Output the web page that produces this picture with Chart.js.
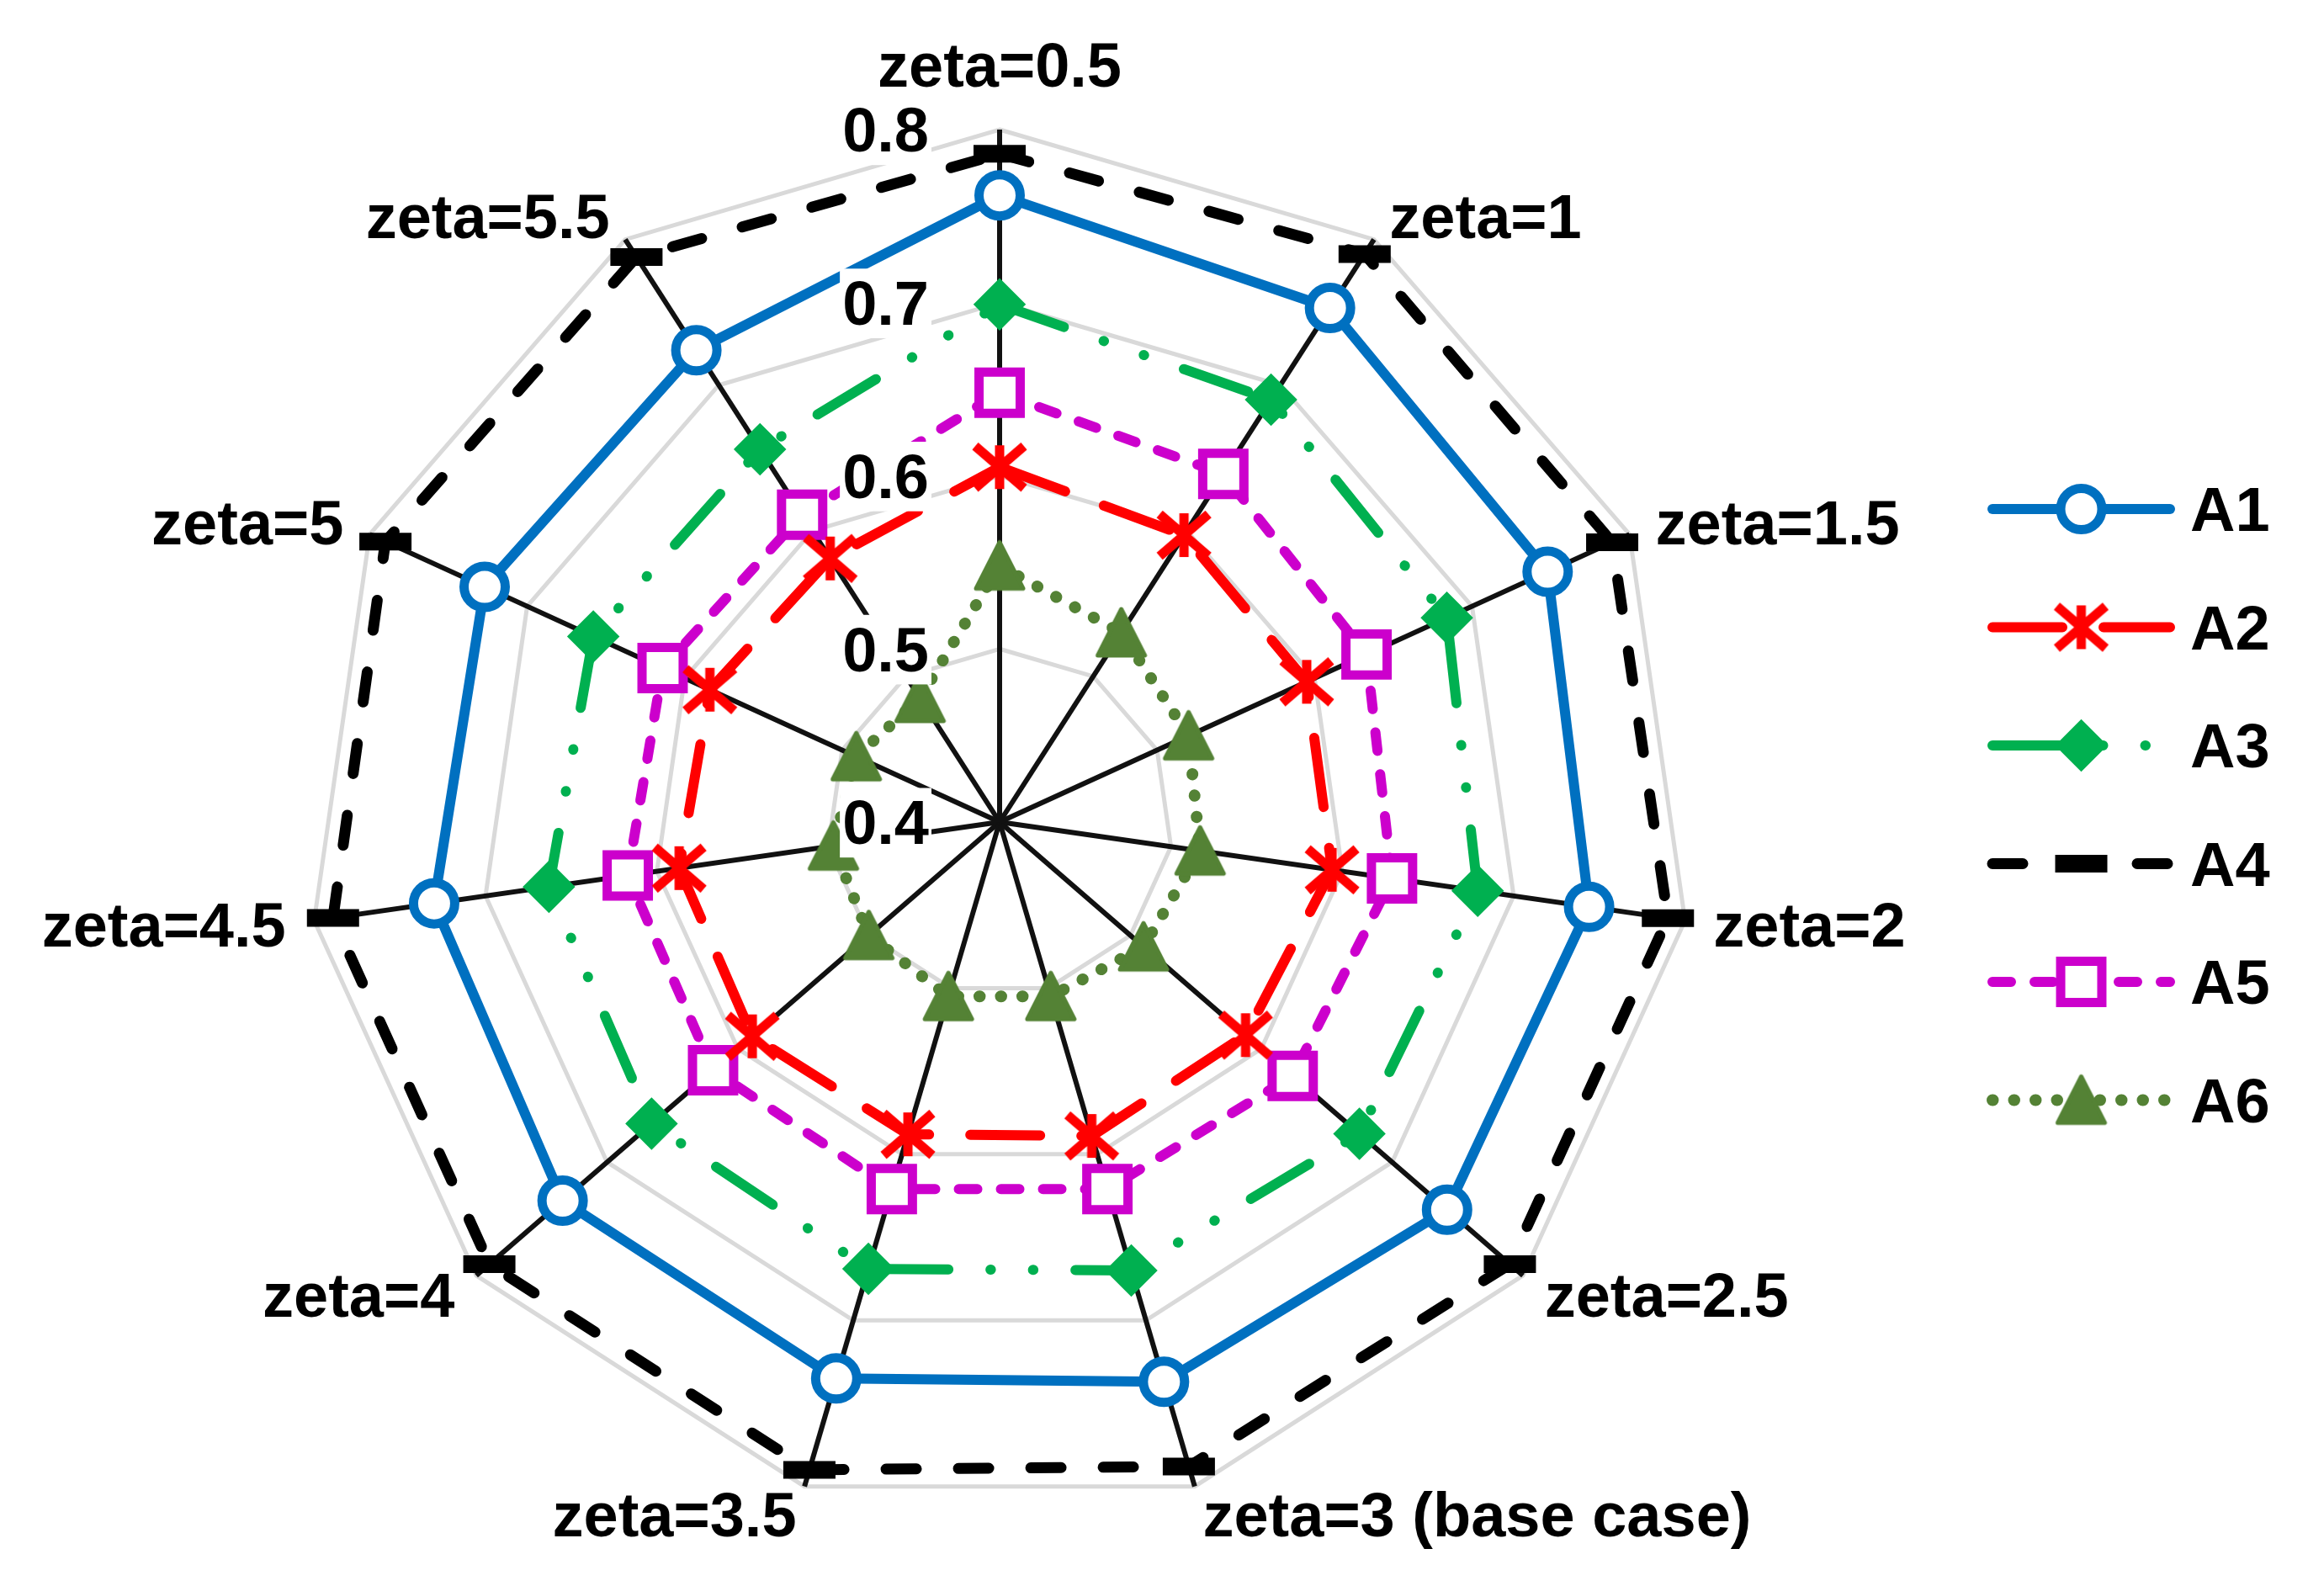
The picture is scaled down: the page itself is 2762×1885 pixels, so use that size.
<!DOCTYPE html>
<html>
<head>
<meta charset="utf-8">
<script src="https://cdn.jsdelivr.net/npm/chart.js@4"></script>
<style>
  html, body { margin: 0; padding: 0; background: #ffffff; }
  #wrap { width: 2762px; height: 1885px; position: relative; }
</style>
</head>
<body>
<div id="wrap"><canvas id="radarChart"></canvas></div>
<script>
// categories (spokes, clockwise from the top)
const categories = ['zeta=0.5', 'zeta=1', 'zeta=1.5', 'zeta=2', 'zeta=2.5', 'zeta=3 (base case)',
                    'zeta=3.5', 'zeta=4', 'zeta=4.5', 'zeta=5', 'zeta=5.5'];
const seriesNames = ['A1', 'A2', 'A3', 'A4', 'A5', 'A6'];

// values
const a1 = [0.762, 0.753, 0.748, 0.744, 0.742, 0.737, 0.735, 0.734, 0.730, 0.727, 0.724];
const a2 = [0.605, 0.597, 0.595, 0.594, 0.588, 0.589, 0.588, 0.589, 0.587, 0.584, 0.581];
const a3 = [0.699, 0.690, 0.684, 0.679, 0.675, 0.670, 0.669, 0.666, 0.663, 0.658, 0.656];
const a4 = [0.786, 0.790, 0.789, 0.790, 0.790, 0.788, 0.790, 0.790, 0.789, 0.790, 0.788];
const a5 = [0.648, 0.639, 0.633, 0.629, 0.624, 0.621, 0.621, 0.619, 0.617, 0.614, 0.611];
const a6 = [0.548, 0.530, 0.520, 0.517, 0.510, 0.505, 0.505, 0.500, 0.497, 0.491, 0.485];

// radial axis ticks
const tickValues = [0.4, 0.5, 0.6, 0.7, 0.8];
const tickLabels = ['0.4', '0.5', '0.6', '0.7', '0.8'];

const FONT = '"Liberation Sans", Arial, Helvetica, sans-serif';
const FONT_SIZE = 74;
const CAP_HALF = FONT_SIZE * 0.716 / 2;

// matlab style asterisk (vertical bar + x) and centred triangle
function makeAsterisk(color) {
  const c = document.createElement('canvas');
  c.width = 76; c.height = 70;
  const g = c.getContext('2d');
  g.translate(38, 35);
  g.strokeStyle = color;
  g.lineWidth = 11;
  g.beginPath();
  g.moveTo(0, -26); g.lineTo(0, 26);
  g.moveTo(-29, -25); g.lineTo(29, 25);
  g.moveTo(-29, 25); g.lineTo(29, -25);
  g.stroke();
  return c;
}
function makeTriangle(color) {
  const c = document.createElement('canvas');
  c.width = 66; c.height = 66;
  const g = c.getContext('2d');
  g.translate(33, 33);
  g.fillStyle = color;
  g.strokeStyle = color;
  g.lineWidth = 5;
  g.lineJoin = 'round';
  g.beginPath();
  g.moveTo(0, -28); g.lineTo(28, 27); g.lineTo(-28, 27);
  g.closePath();
  g.fill();
  g.stroke();
  return c;
}

// line / marker look of each series
const styles = [
  { color: '#0070C0', dash: [],                          marker: 'circle',   radius: 24.5, mWidth: 11, fill: '#ffffff' },
  { color: '#FF0000', dash: [83, 49],                    marker: makeAsterisk('#FF0000'), radius: 29, mWidth: 0, fill: '#FF0000' },
  { color: '#00B050', dash: [81, 50, 0.5, 50, 0.5, 50],  marker: 'rectRot',  radius: 27,   mWidth: 6,  fill: '#00B050' },
  { color: '#000000', dash: [36, 50],                    marker: 'line',     radius: 31,   mWidth: 21, fill: '#000000' },
  { color: '#CC00CC', dash: [22, 28],                    marker: 'rect',     radius: 34.6, mWidth: 11, fill: '#ffffff' },
  { color: '#548235', dash: [0.5, 25],                   marker: makeTriangle('#548235'), radius: 31, mWidth: 0, fill: '#548235' }
];
const lineWidths = [12, 12, 12, 13, 12, 14];

const seriesValues = [a1, a2, a3, a4, a5, a6];

const datasets = seriesValues.map((vals, i) => ({
  label: seriesNames[i],
  data: vals,
  fill: false,
  borderColor: styles[i].color,
  borderWidth: lineWidths[i],
  borderDash: styles[i].dash,
  borderCapStyle: 'round',
  borderJoinStyle: 'round',
  pointStyle: styles[i].marker,
  pointRadius: styles[i].radius,
  pointHoverRadius: styles[i].radius,
  pointBorderWidth: styles[i].mWidth,
  pointBorderColor: styles[i].color,
  pointBackgroundColor: styles[i].fill,
  // restart the dash pattern on every edge, like the original
  segment: { borderDashOffset: ctx => ctx.p0DataIndex * 0.001 }
}));

// radar lines do not get _chart, segment styling needs it
const segmentFix = {
  id: 'segmentFix',
  afterDatasetUpdate(chart, args) {
    const line = chart.getDatasetMeta(args.index).dataset;
    if (line && !line._chart) line._chart = chart;
  }
};

// tick labels with white box on top of the data, and spoke labels
const axisText = {
  id: 'axisText',
  afterDatasetsDraw(chart) {
    const ctx = chart.ctx;
    const r = chart.scales.r;
    ctx.save();
    ctx.font = 'bold ' + FONT_SIZE + 'px ' + FONT;
    ctx.textBaseline = 'alphabetic';

    ctx.textAlign = 'right';
    tickValues.forEach((v, i) => {
      const y = r.yCenter - r.getDistanceFromCenterForValue(v) + CAP_HALF;
      const xr = r.xCenter - 84;
      const w = ctx.measureText(tickLabels[i]).width;
      ctx.fillStyle = '#ffffff';
      ctx.fillRect(xr - w - 3, y - FONT_SIZE * 0.905, w + 6, FONT_SIZE * 1.117);
      ctx.fillStyle = '#000000';
      ctx.fillText(tickLabels[i], xr, y);
    });

    const outer = r.getDistanceFromCenterForValue(r.max);
    categories.forEach((lab, i) => {
      const deg = r.getIndexAngle(i) * 180 / Math.PI;
      ctx.fillStyle = '#000000';
      if (deg < 1 || deg > 359) {
        const p = r.getPointPosition(i, outer + 51);
        ctx.textAlign = 'center';
        ctx.fillText(lab, p.x, p.y);
      } else {
        const p = r.getPointPosition(i, outer + 34);
        ctx.textAlign = deg < 180 ? 'left' : 'right';
        ctx.fillText(lab, p.x, p.y + CAP_HALF);
      }
    });
    ctx.restore();
  }
};

// legend: line sample with the marker in the middle
const LEGEND = { x0: 2368, x1: 2579, textX: 2603, top: 605, step: 140.5 };
const lineLegend = {
  id: 'lineLegend',
  afterDraw(chart) {
    const ctx = chart.ctx;
    chart.data.datasets.forEach((ds, i) => {
      const y = LEGEND.top + i * LEGEND.step;
      ctx.save();
      ctx.strokeStyle = ds.borderColor;
      ctx.lineWidth = ds.borderWidth;
      ctx.setLineDash(ds.borderDash);
      ctx.lineCap = 'round';
      ctx.beginPath();
      ctx.moveTo(LEGEND.x0, y);
      ctx.lineTo(LEGEND.x1, y);
      ctx.stroke();

      ctx.setLineDash([]);
      ctx.lineCap = 'butt';
      ctx.lineJoin = 'miter';
      ctx.fillStyle = ds.pointBackgroundColor;
      ctx.strokeStyle = ds.pointBorderColor;
      ctx.lineWidth = ds.pointBorderWidth;
      Chart.helpers.drawPoint(ctx, {
        pointStyle: ds.pointStyle, radius: ds.pointRadius,
        borderWidth: ds.pointBorderWidth, rotation: 0
      }, (LEGEND.x0 + LEGEND.x1) / 2, y);

      ctx.fillStyle = '#000000';
      ctx.font = 'bold ' + FONT_SIZE + 'px ' + FONT;
      ctx.textAlign = 'left';
      ctx.textBaseline = 'alphabetic';
      ctx.fillText(ds.label, LEGEND.textX, y + CAP_HALF);
      ctx.restore();
    });
  }
};

const ctx1 = document.getElementById('radarChart').getContext('2d');

new Chart(ctx1, {
  type: 'radar',
  data: {
    labels: categories,
    datasets: datasets
  },
  options: {
    responsive: true,
    maintainAspectRatio: false,
    animation: false,
    layout: { padding: { left: 365, right: 751, top: 154, bottom: 85 } },
    plugins: {
      legend: { display: false },
      tooltip: { enabled: false }
    },
    scales: {
      r: {
        min: 0.4,
        max: 0.8,
        ticks: { display: false, stepSize: 0.1 },
        grid: { color: '#D9D9D9', lineWidth: 5 },
        angleLines: { color: '#111111', lineWidth: 6 },
        pointLabels: { display: false }
      }
    }
  },
  plugins: [segmentFix, axisText, lineLegend]
});
</script>
</body>
</html>
